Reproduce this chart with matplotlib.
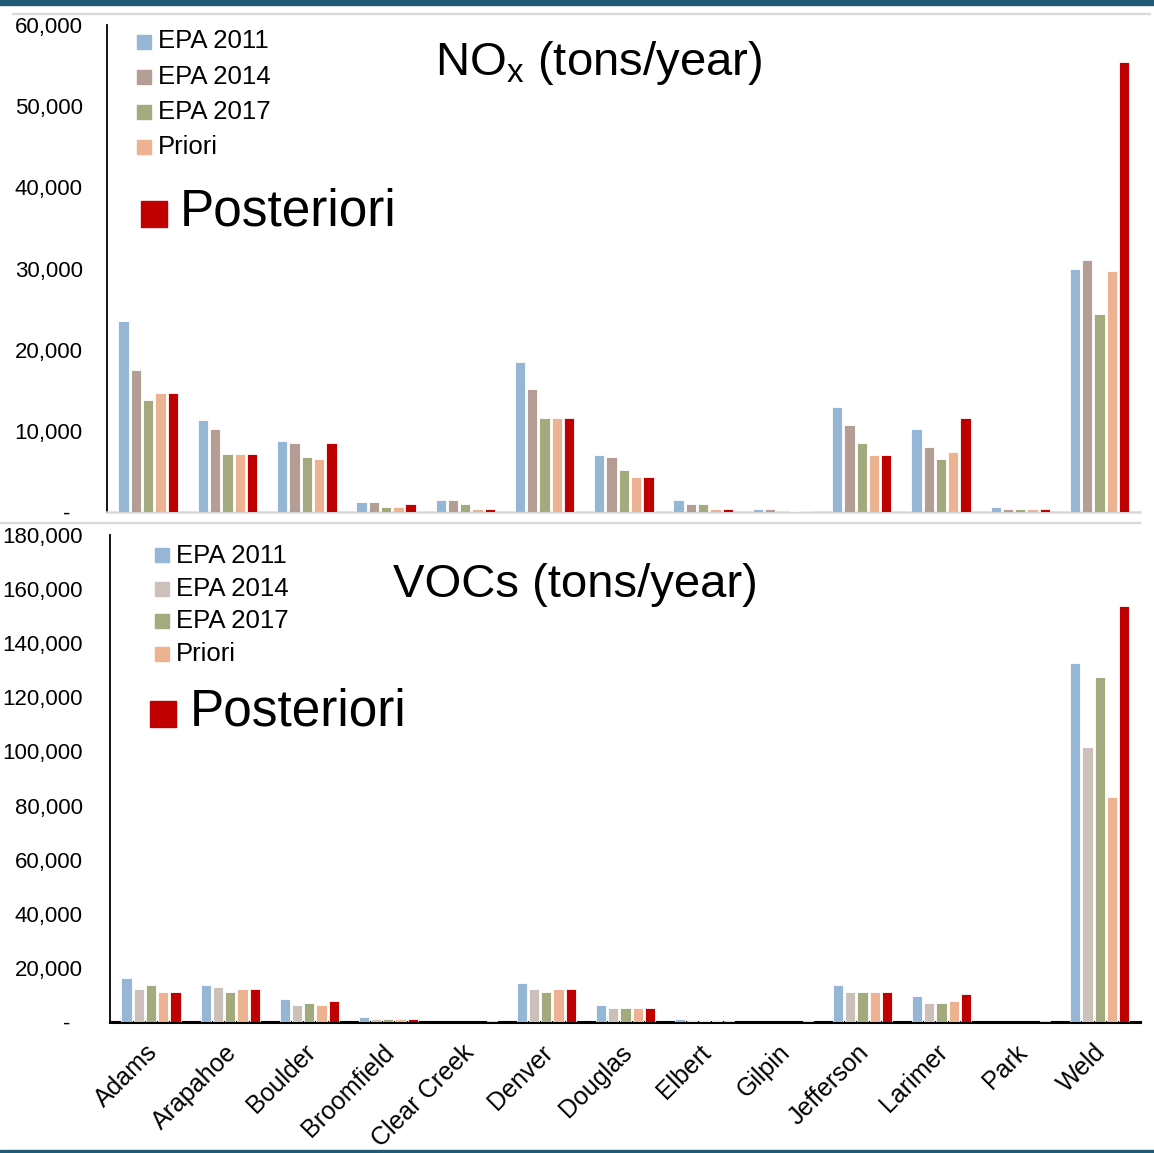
import matplotlib
matplotlib.use("Agg")
import matplotlib.pyplot as plt
import matplotlib.transforms as mtransforms
import numpy as np
from matplotlib.patches import Rectangle
from matplotlib.lines import Line2D

plt.rcParams['font.family'] = ['Liberation Sans', 'DejaVu Sans']
plt.rcParams['mathtext.default'] = 'regular'

counties = ['Adams', 'Arapahoe', 'Boulder', 'Broomfield', 'Clear Creek', 'Denver',
            'Douglas', 'Elbert', 'Gilpin', 'Jefferson', 'Larimer', 'Park', 'Weld']
series = ['EPA 2011', 'EPA 2014', 'EPA 2017', 'Priori', 'Posteriori']

# NOx (tons/year)
nox_2011 = [23500, 11300, 8750, 1230, 1480, 18500, 7050, 1480, 370, 12950, 10200, 660, 29950]
nox_2014 = [17500, 10250, 8500, 1230, 1480, 15150, 6800, 950, 370, 10700, 7950, 370, 31100]
nox_2017 = [13800, 7150, 6800, 620, 990, 11600, 5150, 950, 60, 8500, 6550, 370, 24400]
nox_prior = [14650, 7150, 6550, 620, 370, 11600, 4300, 370, 120, 7050, 7400, 370, 29700]
nox_post = [14650, 7150, 8500, 990, 370, 11600, 4300, 370, 120, 7050, 11550, 370, 55450]

# VOCs (tons/year)
voc_2011 = [16150, 13700, 8600, 1850, 150, 14400, 6150, 1100, 100, 13700, 9500, 150, 132600]
voc_2014 = [12100, 12800, 6150, 1100, 150, 12100, 5300, 200, 100, 11100, 7000, 150, 101500]
voc_2017 = [13700, 11100, 7000, 1100, 150, 11100, 5300, 200, 100, 11100, 7000, 150, 127500]
voc_prior = [11100, 12100, 6150, 1100, 150, 12100, 5300, 200, 100, 11100, 7750, 150, 83200]
voc_post = [11100, 12100, 7750, 1100, 250, 12100, 5300, 300, 300, 11100, 10350, 300, 153700]

colors_top = ['#95b6d5', '#b39d94', '#a3aa7e', '#ecb292', '#c00000']
colors_bot = ['#95b6d5', '#cdbfba', '#a3aa7e', '#ecb292', '#c00000']

W, H = 1154, 1153
fig = plt.figure(figsize=(W / 100, H / 100), dpi=100)

ax1 = fig.add_axes([107 / W, 1 - 512 / H, 1033 / W, 487 / H])
ax2 = fig.add_axes([110 / W, 1 - 1022 / H, 1030 / W, 487 / H])

x = np.arange(len(counties))
step = 0.155
width = 0.13


def fmt(v):
    return '-  ' if v == 0 else f'{int(v):,}'


def draw(ax, data, colors, ymax, ystep, pad):
    for i, (vals, c) in enumerate(zip(data, colors)):
        ax.bar(x + (i - 2) * step, vals, width, color=c, edgecolor='white',
               linewidth=0.6, zorder=3)
    ax.set_xlim(-0.52, 12.51)
    ax.set_ylim(0, ymax)
    ticks = np.arange(0, ymax + 1, ystep)
    ax.set_yticks(ticks)
    ax.set_yticklabels([fmt(t) for t in ticks], fontsize=16)
    ax.tick_params(axis='y', length=0, pad=pad)
    for s in ['top', 'right']:
        ax.spines[s].set_visible(False)
    ax.spines['left'].set_color('black')
    ax.spines['left'].set_linewidth(1.3)


draw(ax1, [nox_2011, nox_2014, nox_2017, nox_prior, nox_post], colors_top, 60000, 10000, 17.5)
ax1.set_xticks([])
ax1.spines['bottom'].set_color('#d9d9d9')
ax1.spines['bottom'].set_linewidth(1.8)

draw(ax2, [voc_2011, voc_2014, voc_2017, voc_prior, voc_post], colors_bot, 180000, 20000, 19.5)
ax2.spines['bottom'].set_color('black')
ax2.spines['bottom'].set_linewidth(2.2)
ax2.set_xticks(x)
ax2.set_xticklabels(counties, fontsize=18, rotation=45, ha='right', va='top',
                    rotation_mode='anchor')
ax2.tick_params(axis='x', length=0, pad=13)
shift = mtransforms.ScaledTranslation(-6 / 100, 0, fig.dpi_scale_trans)
for lbl in ax2.get_xticklabels():
    lbl.set_transform(lbl.get_transform() + shift)

# titles
fig.text(435 / W, 1 - 75 / H, r'NO$_{x}$ (tons/year)', fontsize=34, va='baseline')
fig.text(393 / W, 1 - 597 / H, 'VOCs (tons/year)', fontsize=34, va='baseline')


def entry(sx, top, size, tx, base, label, color, fs):
    fig.patches.append(Rectangle((sx / W, 1 - (top + size) / H), size / W, size / H,
                                 color=color, transform=fig.transFigure))
    fig.text(tx / W, 1 - base / H, label, fontsize=fs, va='baseline')


# top legend
for lab, col, top, base in zip(series[:4], colors_top[:4], [35, 70, 105, 140], [48, 84, 119, 154]):
    entry(137, top, 14, 158, base, lab, col, 18.5)
entry(141, 201, 26, 180, 226, series[4], colors_top[4], 37)

# bottom legend
for lab, col, top, base in zip(series[:4], colors_bot[:4], [548, 582, 614, 647], [563, 596, 628, 661]):
    entry(155, top, 14, 176, base, lab, col, 18.5)
entry(150, 701, 26, 190, 726, series[4], colors_bot[4], 37)

# frame decorations
fig.patches.append(Rectangle((0, 1 - 5 / H), 1, 5 / H, color='#215a74', transform=fig.transFigure))
fig.patches.append(Rectangle((0, 0), 1, 3 / H, color='#215a74', transform=fig.transFigure))
fig.add_artist(Line2D([13 / W, 1150 / W], [1 - 13.5 / H] * 2, color='#d9d9d9', lw=1.6))
fig.add_artist(Line2D([0, 1140 / W], [1 - 523 / H] * 2, color='#d9d9d9', lw=1.6))

fig.savefig('out.png', dpi=100)
